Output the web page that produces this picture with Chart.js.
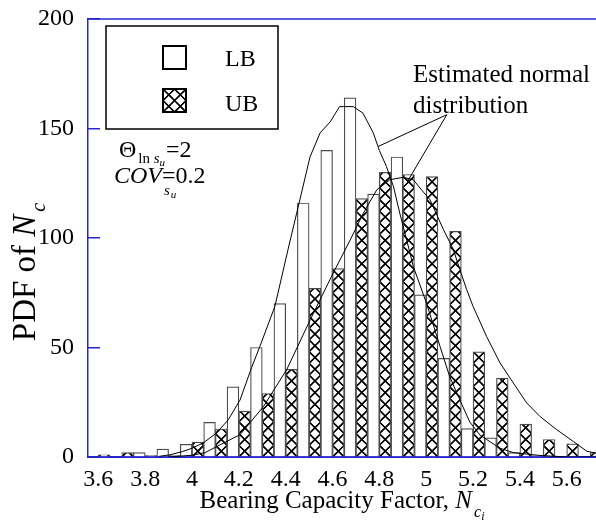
<!DOCTYPE html>
<html>
<head>
<meta charset="utf-8">
<script src="https://cdn.jsdelivr.net/npm/chart.js@4.4.1/dist/chart.umd.min.js"></script>
<style>
  html, body { margin: 0; padding: 0; background: #fff; }
</style>
</head>
<body>
<canvas id="chart" width="596" height="530"></canvas>
<script>
// histogram bins (centre of each 0.1 wide bin), LB bar on the left half, UB bar on the right half
const binCentres = [3.6, 3.7, 3.8, 3.9, 4.0, 4.1, 4.2, 4.3, 4.4, 4.5, 4.6, 4.7, 4.8, 4.9, 5.0, 5.1, 5.2, 5.3, 5.4, 5.5, 5.6, 5.7];
const lbPdf = [0, 0, 2, 3.6, 5.8, 15.8, 32, 50, 70, 116, 140, 164, 120, 137, 74, 45, 13, 8.7, 2, 0.7, 0, 0];
const ubPdf = [1, 2, 0.6, 0.6, 6.8, 12.8, 21, 29, 40, 77, 86, 118, 130, 129, 128, 103, 48, 36, 15, 8, 6, 2];

// fitted normal curves
const lbCurveX = [3.86, 3.906, 3.96, 4.0, 4.048, 4.105, 4.155, 4.205, 4.255, 4.29, 4.354, 4.41, 4.504, 4.547, 4.59, 4.63, 4.646, 4.689, 4.73, 4.774, 4.80, 4.83, 4.86, 4.888, 4.917, 4.945, 5.002, 5.059, 5.10, 5.144, 5.186, 5.23, 5.258, 5.315, 5.372, 5.486, 5.6, 5.725];
const lbCurveY = [0.3, 1, 2.5, 4, 6.4, 11, 17, 26, 41, 50.5, 68.8, 94.7, 137, 148, 153, 160, 160, 160, 157, 148, 140, 132.7, 123.6, 111, 99, 87, 70, 50.5, 36.8, 26, 16, 10, 8, 4, 2, 0.7, 0, 0];
const ubCurveX = [3.9, 4.0, 4.056, 4.106, 4.205, 4.305, 4.405, 4.505, 4.603, 4.675, 4.73, 4.789, 4.845, 4.902, 4.945, 4.98, 5.016, 5.073, 5.116, 5.144, 5.173, 5.20, 5.258, 5.315, 5.372, 5.429, 5.486, 5.557, 5.628, 5.686, 5.725];
const ubCurveY = [0, 0.8, 2, 4.8, 10.2, 23, 40, 62.7, 84, 99, 111, 122, 126.6, 127.7, 126.6, 122, 117.5, 104, 94.7, 85.5, 76.4, 68.8, 55, 43, 33.8, 24.7, 18.5, 12.5, 7.1, 2.6, 1.8];

const xTicks = [3.6, 3.8, 4, 4.2, 4.4, 4.6, 4.8, 5, 5.2, 5.4, 5.6];
const yTicks = [0, 50, 100, 150, 200];

// leader lines of the "Estimated normal distribution" note: [x, y] in data units
const noteApex = [5.088, 156.3];
const noteTargets = [[4.795, 141.8], [4.92, 125.8]];

const serif = "'Liberation Serif', 'Times New Roman', serif";
const axisBlue = '#2626d0';

function makeHatch(ctx) {
  const tile = document.createElement('canvas');
  tile.width = tile.height = 24;
  const g = tile.getContext('2d');
  g.fillStyle = '#fff';
  g.fillRect(0, 0, 24, 24);
  g.strokeStyle = '#000';
  g.lineWidth = 3.4;
  g.beginPath();
  g.moveTo(-2, -2); g.lineTo(26, 26);
  g.moveTo(26, -2); g.lineTo(-2, 26);
  g.stroke();
  return ctx.createPattern(tile, 'repeat');
}

function runsWidth(ctx, runs) {
  let w = 0;
  runs.forEach(r => { ctx.font = r.font; w += ctx.measureText(r.text).width + (r.dx || 0); });
  return w;
}

function drawRuns(ctx, x, y, runs) {
  runs.forEach(r => {
    ctx.font = r.font;
    x += (r.dx || 0);
    ctx.fillText(r.text, x, y + (r.dy || 0));
    x += ctx.measureText(r.text).width;
  });
}

const ctx = document.getElementById('chart').getContext('2d');
const hatch = makeHatch(ctx);

const extras = {
  id: 'extras',
  beforeDatasetsDraw(chart) {
    // line the cross-hatch up with the UB bars so each bar holds one column of crosses
    const bar = chart.getDatasetMeta(1).data[0];
    const w = bar.width;
    hatch.setTransform(new DOMMatrix().translateSelf(bar.x - w / 2, chart.chartArea.bottom).scaleSelf(w / 24, w / 24));
  },
  afterDraw(chart) {
    const c = chart.ctx;
    const area = chart.chartArea;
    const xs = chart.scales.x, ys = chart.scales.y;
    c.save();

    // top frame line
    c.strokeStyle = axisBlue;
    c.lineWidth = 1.5;
    c.beginPath();
    c.moveTo(area.left, area.top);
    c.lineTo(area.right, area.top);
    c.stroke();

    // legend
    c.fillStyle = '#fff';
    c.fillRect(106, 26, 172, 103);
    c.strokeStyle = '#000';
    c.lineWidth = 1.5;
    c.strokeRect(106, 26, 172, 103);
    c.lineWidth = 2;
    c.fillStyle = '#fff';
    c.fillRect(163, 46, 23, 23);
    c.strokeRect(163, 46, 23, 23);
    hatch.setTransform(new DOMMatrix().translateSelf(163, 89).scaleSelf(0.48, 0.48));
    c.fillStyle = hatch;
    c.fillRect(163, 89, 23, 23);
    c.strokeRect(163, 89, 23, 23);
    c.fillStyle = '#000';
    c.textBaseline = 'alphabetic';
    c.textAlign = 'left';
    c.font = '24px ' + serif;
    c.fillText(chart.data.datasets[0].label, 225, 66);
    c.fillText(chart.data.datasets[1].label, 225, 111);

    // correlation length and coefficient of variation
    drawRuns(c, 119, 157, [
      { text: '\u0398', font: '24px ' + serif },
      { text: 'ln', font: '15px ' + serif, dy: 6, dx: 2 },
      { text: ' s', font: 'italic 15px ' + serif, dy: 6 },
      { text: 'u', font: 'italic 11px ' + serif, dy: 9 },
      { text: '=2', font: '24px ' + serif, dx: 1 }
    ]);
    c.font = 'italic 24px ' + serif;
    c.fillText('COV', 114, 183);
    const covW = c.measureText('COV').width;
    c.font = '24px ' + serif;
    c.fillText('=0.2', 114 + covW, 183);
    drawRuns(c, 114 + covW + 2, 195, [
      { text: 's', font: 'italic 15px ' + serif },
      { text: 'u', font: 'italic 11px ' + serif, dy: 3, dx: 1 }
    ]);

    // note with leader lines onto both fitted curves
    c.font = '25px ' + serif;
    c.fillText('Estimated normal', 413, 82);
    c.fillText('distribution', 413, 113);
    c.strokeStyle = '#000';
    c.lineWidth = 1;
    c.beginPath();
    noteTargets.forEach(t => {
      c.moveTo(xs.getPixelForValue(noteApex[0]), ys.getPixelForValue(noteApex[1]));
      c.lineTo(xs.getPixelForValue(t[0]), ys.getPixelForValue(t[1]));
    });
    c.stroke();

    // x axis title
    const xTitle = [
      { text: 'Bearing Capacity Factor, ', font: '25px ' + serif },
      { text: 'N', font: 'italic 25px ' + serif },
      { text: 'c', font: 'italic 16px ' + serif, dy: 9, dx: 2 },
      { text: 'i', font: 'italic 12px ' + serif, dy: 12 }
    ];
    drawRuns(c, 342 - runsWidth(c, xTitle) / 2, 508, xTitle);

    // y axis title
    const yTitle = [
      { text: 'PDF of ', font: '33px ' + serif },
      { text: 'N', font: 'italic 33px ' + serif },
      { text: 'c', font: 'italic 20px ' + serif, dy: 10, dx: 3 }
    ];
    c.translate(35, 272);
    c.rotate(-Math.PI / 2);
    drawRuns(c, -runsWidth(c, yTitle) / 2, 0, yTitle);

    c.restore();
  }
};

new Chart(ctx, {
  type: 'bar',
  data: {
    datasets: [
      {
        label: 'LB',
        data: binCentres.map((x, i) => ({ x, y: lbPdf[i] })),
        backgroundColor: '#fff',
        borderColor: '#4a4a4a',
        borderWidth: 1.2,
        order: 2
      },
      {
        label: 'UB',
        data: binCentres.map((x, i) => ({ x, y: ubPdf[i] })),
        backgroundColor: hatch,
        borderColor: '#4a4a4a',
        borderWidth: 1.2,
        order: 2
      },
      {
        type: 'line',
        label: 'LB normal',
        data: lbCurveX.map((x, i) => ({ x, y: lbCurveY[i] })),
        borderColor: '#000',
        borderWidth: 1,
        pointRadius: 0,
        tension: 0,
        order: 1
      },
      {
        type: 'line',
        label: 'UB normal',
        data: ubCurveX.map((x, i) => ({ x, y: ubCurveY[i] })),
        borderColor: '#000',
        borderWidth: 1,
        pointRadius: 0,
        tension: 0,
        order: 1
      }
    ]
  },
  options: {
    responsive: false,
    animation: false,
    layout: { padding: { top: 19, right: 0, bottom: 0, left: 0 } },
    datasets: { bar: { barPercentage: 1, categoryPercentage: 1 } },
    plugins: { legend: { display: false }, tooltip: { enabled: false } },
    scales: {
      x: {
        type: 'linear',
        min: 3.556,
        max: 5.725,
        offset: false,
        grid: { display: false },
        border: { color: axisBlue, width: 2 },
        afterBuildTicks: s => { s.ticks = xTicks.map(v => ({ value: v })); },
        afterFit: s => { s.height = 73; s.paddingLeft = 0; s.paddingRight = 0; },
        ticks: {
          color: '#000',
          font: { family: serif, size: 24 },
          padding: 0,
          maxRotation: 0,
          autoSkip: false,
          callback: v => String(v)
        }
      },
      y: {
        min: 0,
        max: 200,
        grid: { drawOnChartArea: false, tickLength: -12, color: axisBlue, lineWidth: 1.5 },
        border: { color: axisBlue, width: 1.5 },
        afterBuildTicks: s => { s.ticks = yTicks.map(v => ({ value: v })); },
        afterFit: s => { s.width = 88; s.paddingTop = 0; s.paddingBottom = 0; },
        ticks: {
          color: '#000',
          font: { family: serif, size: 24 },
          padding: 26,
          callback: v => String(v)
        }
      }
    }
  },
  plugins: [extras]
});
</script>
</body>
</html>
